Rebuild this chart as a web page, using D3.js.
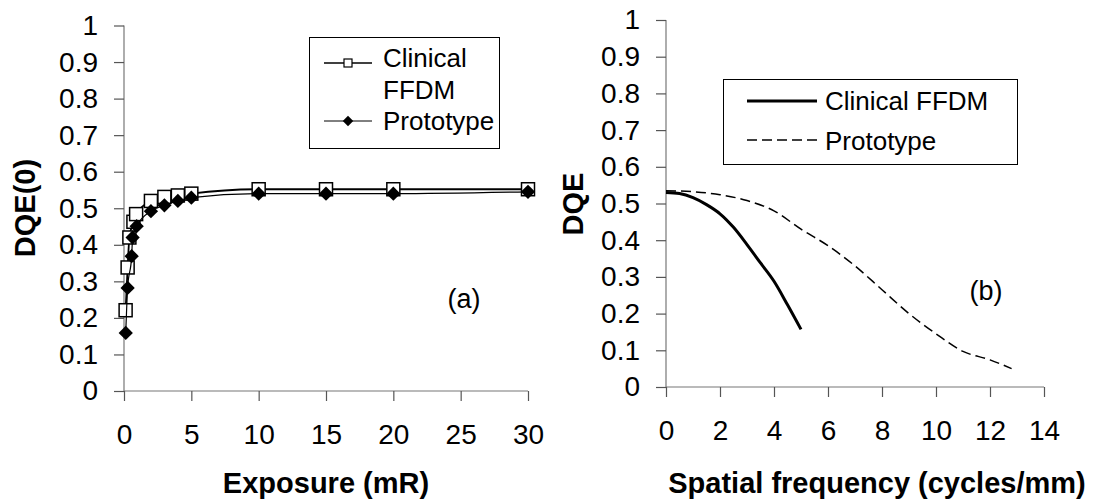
<!DOCTYPE html>
<html>
<head>
<meta charset="utf-8">
<script src="https://cdn.jsdelivr.net/npm/d3@7"></script>
<style>
  body { margin: 0; background: #fff; }
  svg text { font-family: "Liberation Sans", Arial, sans-serif; fill: #000; }
</style>
</head>
<body>
<div id="chart"></div>
<script>
// (a) DQE(0) vs exposure
var clinicalExposure = [0.12, 0.27, 0.4, 0.7, 0.9, 2, 3, 4, 5, 10, 15, 20, 30];
var clinicalDqe0     = [0.221, 0.338, 0.42, 0.463, 0.484, 0.52, 0.531, 0.535, 0.54, 0.552, 0.552, 0.552, 0.552];
var protoExposure    = [0.13, 0.27, 0.57, 0.64, 0.94, 2, 3, 4, 5, 10, 15, 20, 30];
var protoDqe0        = [0.159, 0.282, 0.369, 0.42, 0.451, 0.492, 0.508, 0.52, 0.529, 0.54, 0.54, 0.54, 0.545];

// (b) DQE vs spatial frequency
var clinicalFreq = [0, 0.5, 1, 1.5, 2, 2.5, 3, 3.5, 4, 4.5, 5];
var clinicalDqe  = [0.53, 0.527, 0.516, 0.497, 0.472, 0.435, 0.388, 0.338, 0.288, 0.224, 0.157];
var protoFreq    = [0, 1, 2, 3, 4, 5, 6, 7, 8, 9, 10, 11, 12, 12.8];
var protoDqe     = [0.535, 0.532, 0.524, 0.508, 0.48, 0.43, 0.385, 0.33, 0.265, 0.2, 0.145, 0.097, 0.074, 0.05];

var yTicks  = [0, 0.1, 0.2, 0.3, 0.4, 0.5, 0.6, 0.7, 0.8, 0.9, 1];
var xTicksA = [0, 5, 10, 15, 20, 25, 30];
var xTicksB = [0, 2, 4, 6, 8, 10, 12, 14];
var seriesNames = ["Clinical FFDM", "Prototype"];

var svg = d3.select("#chart").append("svg")
            .attr("width", 1104)
            .attr("height", 502);

function zip(xs, ys) { return xs.map(function(x, i) { return [x, ys[i]]; }); }

function drawAxes(x, y, xt) {
  var g = svg.append("g");
  var ya = g.append("g")
            .attr("transform", "translate(" + x.range()[0] + ",0)")
            .call(d3.axisLeft(y).tickValues(yTicks).tickSize(10).tickPadding(16)
                    .tickFormat(function(d) { return String(d); }));
  var xa = g.append("g")
            .attr("transform", "translate(0," + y(0) + ")")
            .call(d3.axisBottom(x).tickValues(xt).tickSize(10).tickPadding(23)
                    .tickFormat(function(d) { return String(d); }));
  [ya, xa].forEach(function(a) {
    a.selectAll(".domain").attr("stroke", "#777").attr("stroke-width", 1.2);
    a.selectAll(".tick line").attr("stroke", "#555").attr("stroke-width", 1.2);
    a.selectAll(".tick text").style("font-size", "28px").attr("fill", "#000");
  });
  ya.select(".domain").attr("d", "M0," + y(1) + "V" + y(0));
  xa.select(".domain").attr("d", "M" + x.range()[0] + ",0H" + x.range()[1]);
}

// ---------- chart (a) ----------
var xA = d3.scaleLinear().domain([0, 30]).range([124, 528]);
var yA = d3.scaleLinear().domain([0, 1]).range([391, 25.5]);
drawAxes(xA, yA, xTicksA);

var lineA = d3.line()
              .x(function(d) { return xA(d[0]); })
              .y(function(d) { return yA(d[1]); })
              .curve(d3.curveMonotoneX);

svg.append("path").datum(zip(clinicalExposure, clinicalDqe0))
   .attr("d", lineA).attr("fill", "none").attr("stroke", "#000").attr("stroke-width", 1.8);

svg.selectAll(".clin").data(zip(clinicalExposure, clinicalDqe0)).enter()
   .append("rect").attr("class", "clin")
   .attr("x", function(d) { return xA(d[0]) - 6.5; })
   .attr("y", function(d) { return yA(d[1]) - 6.5; })
   .attr("width", 13).attr("height", 13)
   .attr("fill", "#fff").attr("stroke", "#000").attr("stroke-width", 1.5);

svg.append("path").datum(zip(protoExposure, protoDqe0))
   .attr("d", lineA).attr("fill", "none").attr("stroke", "#000").attr("stroke-width", 1.2);

var diamond = d3.symbol().type(d3.symbolDiamond2).size(130);
svg.selectAll(".proto").data(zip(protoExposure, protoDqe0)).enter()
   .append("path").attr("class", "proto")
   .attr("d", diamond)
   .attr("transform", function(d) { return "translate(" + xA(d[0]) + "," + yA(d[1]) + ")"; })
   .attr("fill", "#000");

// legend (a)
var legA = svg.append("g");
legA.append("rect").attr("x", 309.5).attr("y", 37.5).attr("width", 190).attr("height", 111)
    .attr("fill", "#fff").attr("stroke", "#000").attr("stroke-width", 1);
legA.append("line").attr("x1", 324).attr("x2", 372).attr("y1", 63).attr("y2", 63)
    .attr("stroke", "#000").attr("stroke-width", 1.5);
legA.append("rect").attr("x", 344).attr("y", 59).attr("width", 8).attr("height", 8)
    .attr("fill", "#fff").attr("stroke", "#000").attr("stroke-width", 1.2);
legA.append("line").attr("x1", 324).attr("x2", 372).attr("y1", 121).attr("y2", 121)
    .attr("stroke", "#000").attr("stroke-width", 1);
legA.append("path").attr("d", d3.symbol().type(d3.symbolDiamond2).size(70))
    .attr("transform", "translate(348,121)").attr("fill", "#000");
var labA = [["Clinical", 67], ["FFDM", 99], ["Prototype", 130]];
legA.selectAll("text.l").data(labA).enter().append("text").attr("class", "l")
    .attr("x", 383).attr("y", function(d) { return d[1]; })
    .style("font-size", "26px").text(function(d) { return d[0]; });

svg.append("text").attr("x", 464).attr("y", 308).attr("text-anchor", "middle")
   .style("font-size", "27px").text("(a)");

svg.append("text").attr("transform", "translate(35,208) rotate(-90)")
   .attr("text-anchor", "middle").style("font-size", "29px").style("font-weight", "bold")
   .text("DQE(0)");
svg.append("text").attr("x", 326).attr("y", 493).attr("text-anchor", "middle")
   .style("font-size", "29px").style("font-weight", "bold").text("Exposure (mR)");

// ---------- chart (b) ----------
var xB = d3.scaleLinear().domain([0, 14]).range([666, 1044]);
var yB = d3.scaleLinear().domain([0, 1]).range([387, 20]);
drawAxes(xB, yB, xTicksB);

var lineB = d3.line()
              .x(function(d) { return xB(d[0]); })
              .y(function(d) { return yB(d[1]); })
              .curve(d3.curveMonotoneX);

svg.append("path").datum(zip(protoFreq, protoDqe))
   .attr("d", lineB).attr("fill", "none").attr("stroke", "#000")
   .attr("stroke-width", 1.5).attr("stroke-dasharray", "10,5");
svg.append("path").datum(zip(clinicalFreq, clinicalDqe))
   .attr("d", lineB).attr("fill", "none").attr("stroke", "#000").attr("stroke-width", 3);

// legend (b)
var legB = svg.append("g");
legB.append("rect").attr("x", 723.5).attr("y", 79.5).attr("width", 294).attr("height", 85)
    .attr("fill", "none").attr("stroke", "#000").attr("stroke-width", 1);
legB.append("line").attr("x1", 747).attr("x2", 817).attr("y1", 101).attr("y2", 101)
    .attr("stroke", "#000").attr("stroke-width", 3);
legB.append("line").attr("x1", 747).attr("x2", 817).attr("y1", 140).attr("y2", 140)
    .attr("stroke", "#000").attr("stroke-width", 1.5).attr("stroke-dasharray", "10,5");
legB.selectAll("text.l").data(seriesNames).enter().append("text").attr("class", "l")
    .attr("x", 825).attr("y", function(d, i) { return 110 + i * 40; })
    .style("font-size", "26px").text(function(d) { return d; });

svg.append("text").attr("x", 986).attr("y", 300).attr("text-anchor", "middle")
   .style("font-size", "27px").text("(b)");

svg.append("text").attr("transform", "translate(583,204) rotate(-90)")
   .attr("text-anchor", "middle").style("font-size", "29px").style("font-weight", "bold")
   .text("DQE");
svg.append("text").attr("x", 877).attr("y", 493).attr("text-anchor", "middle")
   .style("font-size", "29px").style("font-weight", "bold").text("Spatial frequency (cycles/mm)");
</script>
</body>
</html>
